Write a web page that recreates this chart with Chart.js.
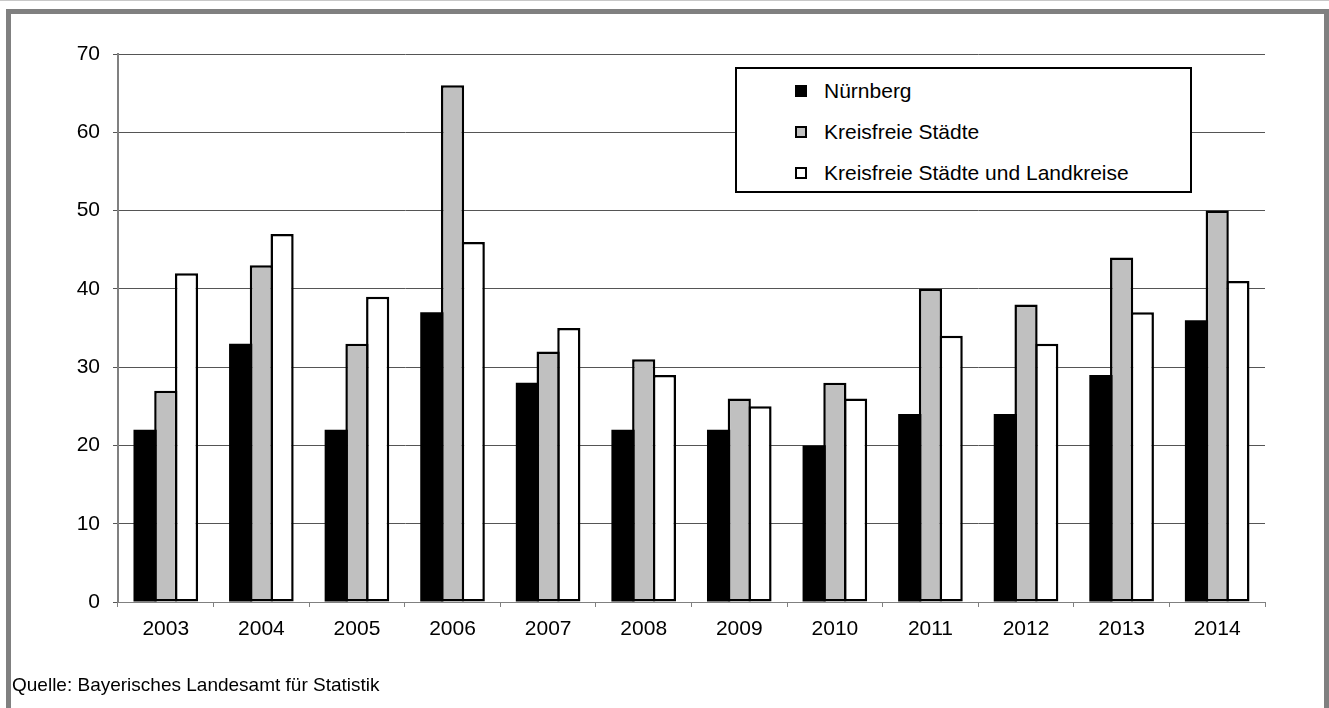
<!DOCTYPE html>
<html lang="de">
<head>
    <meta charset="UTF-8">
    <title>Nürnberg – Kreisfreie Städte</title>
    <script src="https://cdn.jsdelivr.net/npm/chart.js"></script>
    <style>
        body {
            margin: 0;
            background: #fff;
            font-family: "Liberation Sans", Arial, sans-serif;
        }
        #wrap {
            position: relative;
            width: 1329px;
            height: 708px;
            overflow: hidden;
        }
        .topline {
            position: absolute; left: 0; top: 0;
            width: 1329px; height: 1px; background: #c8c8c8;
        }
        .frame {
            position: absolute; left: 6px; top: 9px;
            width: 1313px; height: 720px;
            border: 5px solid #808080; border-bottom: none;
        }
        canvas { position: absolute; left: 0; top: 0; }
        #legend {
            position: absolute; left: 735px; top: 67px;
            width: 453px; height: 122px;
            border: 2px solid #000; background: #fff;
        }
        .item {
            position: absolute; left: 58px;
            font-size: 21px; color: #000; line-height: 24px;
        }
        .box {
            display: inline-block; width: 8px; height: 8px;
            border: 2px solid #000; margin-right: 17px; vertical-align: 1px;
        }
        #source {
            position: absolute; left: 12px; top: 674px;
            font-size: 19px; color: #000;
        }
    </style>
</head>
<body>
<div id="wrap">
    <div class="topline"></div>
    <div class="frame"></div>
    <canvas id="chart" width="1329" height="708"></canvas>
    <div id="legend"></div>
    <div id="source">Quelle: Bayerisches Landesamt für Statistik</div>
</div>

<script>
    // data
    const years = ['2003', '2004', '2005', '2006', '2007', '2008', '2009', '2010', '2011', '2012', '2013', '2014'];
    const nuernberg = [22, 33, 22, 37, 28, 22, 22, 20, 24, 24, 29, 36];
    const kreisfreieStaedte = [27, 43, 33, 66, 32, 31, 26, 28, 40, 38, 44, 50];
    const staedteUndLandkreise = [42, 47, 39, 46, 35, 29, 25, 26, 34, 33, 37, 41];
    const seriesNames = ['Nürnberg', 'Kreisfreie Städte', 'Kreisfreie Städte und Landkreise'];
    const yTicks = [0, 10, 20, 30, 40, 50, 60, 70];

    const font = { family: '"Liberation Sans", Arial, sans-serif', size: 21 };

    const chart = new Chart(document.getElementById('chart'), {
        type: 'bar',
        data: {
            labels: years,
            datasets: [
                // solid black, no separate outline needed
                { label: seriesNames[0], data: nuernberg, backgroundColor: '#000', borderWidth: 0 },
                { label: seriesNames[1], data: kreisfreieStaedte, backgroundColor: '#c0c0c0' },
                { label: seriesNames[2], data: staedteUndLandkreise, backgroundColor: '#fff' }
            ]
        },
        options: {
            responsive: false,
            animation: false,
            events: [],
            layout: { padding: { left: 0, top: 54, right: 64, bottom: 58 } },
            plugins: { legend: { display: false }, tooltip: { enabled: false } },
            datasets: {
                bar: {
                    // bars overlap a little so neighbours share one outline
                    categoryPercentage: 0.65, barPercentage: 1.12,
                    borderColor: '#000', borderWidth: 2.5, borderSkipped: false, inflateAmount: 0
                }
            },
            scales: {
                x: {
                    offset: true,
                    grid: { offset: true, drawOnChartArea: false, tickLength: 5, color: '#808080' },
                    border: { color: '#808080', width: 1 },
                    ticks: { color: '#000', font: font, padding: 10, maxRotation: 0 },
                    afterFit: s => { s.height = 48; }
                },
                y: {
                    min: 0,
                    max: 70,
                    afterBuildTicks: s => { s.ticks = yTicks.map(v => ({ value: v })); },
                    grid: { color: '#555', tickLength: 5, lineWidth: 1 },
                    border: { color: '#808080', width: 2 },
                    ticks: { color: '#000', font: font, padding: 13 },
                    afterFit: s => { s.width = 118; }
                }
            }
        }
    });

    // legend built from the datasets
    const legend = document.getElementById('legend');
    chart.data.datasets.forEach((ds, i) => {
        const row = document.createElement('div');
        row.className = 'item';
        row.style.top = (10 + i * 41) + 'px';
        row.innerHTML = '<span class="box" style="background:' + ds.backgroundColor + '"></span>' + ds.label;
        legend.appendChild(row);
    });
</script>
</body>
</html>
